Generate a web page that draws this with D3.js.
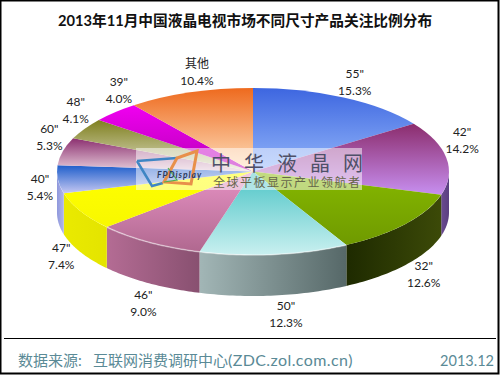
<!DOCTYPE html>
<html>
<head>
<meta charset="utf-8">
<script src="https://cdn.jsdelivr.net/npm/d3@7"></script>
<style>
  html, body { margin: 0; padding: 0; background: #fff; }
  svg { display: block; }
  text { font-family: Lato, "Noto Sans CJK SC", sans-serif; }
</style>
</head>
<body>
<svg id="chart" width="500" height="375"></svg>
<script>
"use strict";

const titleText = "2013年11月中国液晶电视市场不同尺寸产品关注比例分布";
const sizes = ['55"', '42"', '32"', '50"', '46"', '47"', '40"', '60"', '48"', '39"', "其他"];
const shares = [15.3, 14.2, 12.6, 12.3, 9.0, 7.4, 5.4, 5.3, 4.1, 4.0, 10.4];

// top face: colour at top of the slice, colour at bottom of the slice
const topColors = [
  ["#3d66e0", "#93b6fa"], ["#8b2c6c", "#c78ff0"], ["#86b800", "#6f9a00"],
  ["#4cc4c6", "#c9f0f0"], ["#e692c4", "#b0688f"], ["#ffff00", "#f8f800"],
  ["#1e5ecb", "#c6c8f2"], ["#8c3070", "#e8cfdc"], ["#7f7f1e", "#e2e2cc"],
  ["#f000f0", "#b800b8"], ["#ee6a1e", "#ffe2c0"]
];
// side wall, left to right
const sideColors = [
  ["#6a4a90", "#5a3f80"], ["#6a4a90", "#5a3f80"], ["#1e2a00", "#3c4a08"],
  ["#a2b6b6", "#566868"], ["#b46c94", "#885070"], ["#eaea00", "#e4e400"],
  ["#8f98dc", "#b0b6ea"], ["#8f98dc", "#b0b6ea"], ["#8f98dc", "#b0b6ea"],
  ["#8f98dc", "#b0b6ea"], ["#8f98dc", "#b0b6ea"]
];

const cx = 253, cy = 171.5, rx = 196, ry = 83.5, depth = 41;

const svg = d3.select("#chart");
const defs = svg.append("defs");

const slices = d3.pie().sort(null).value((d) => d)(shares);

// frame
svg.append("rect").attr("x", 0.5).attr("y", 0.5).attr("width", 498).attr("height", 373)
  .attr("fill", "#fff").attr("stroke", "#000").attr("stroke-width", 2);
svg.append("line").attr("x1", 4).attr("x2", 496).attr("y1", 338.5).attr("y2", 338.5)
  .attr("stroke", "#000").attr("stroke-width", 1.2);

svg.append("text").attr("x", 245).attr("y", 26).attr("text-anchor", "middle")
  .attr("font-size", 14.7).attr("font-weight", 700).attr("fill", "#111").text(titleText);

function gradient(id, stops, horizontal) {
  const g = defs.append("linearGradient").attr("id", id)
    .attr("x1", 0).attr("y1", 0).attr("x2", horizontal ? 1 : 0).attr("y2", horizontal ? 0 : 1);
  g.append("stop").attr("offset", "0%").attr("stop-color", stops[0]);
  g.append("stop").attr("offset", "100%").attr("stop-color", stops[1]);
}
topColors.forEach((c, i) => gradient("top" + i, c, false));
sideColors.forEach((c, i) => gradient("side" + i, c, true));

// side wall, only the front half of the ellipse is visible
const wall = d3.area()
  .x((t) => cx + rx * Math.sin(t))
  .y0((t) => cy - ry * Math.cos(t))
  .y1((t) => cy - ry * Math.cos(t) + depth);

function frontAngles(d) {
  const a = Math.max(d.startAngle, Math.PI / 2);
  const b = Math.min(d.endAngle, Math.PI * 1.5);
  return d3.range(0, 41).map((k) => a + ((b - a) * k) / 40);
}

const frontSlices = slices.filter((d) => d.endAngle > Math.PI / 2 && d.startAngle < Math.PI * 1.5);

svg.append("g").selectAll("path")
  .data(frontSlices)
  .enter()
  .append("path")
  .attr("d", (d) => wall(frontAngles(d)))
  .attr("fill", (d) => `url(#side${d.index})`);

// top face: a circle pie squashed into an ellipse
const arc = d3.arc().innerRadius(0).outerRadius(rx);
svg.append("g")
  .attr("transform", `translate(${cx},${cy}) scale(1,${ry / rx})`)
  .selectAll("path")
  .data(slices)
  .enter()
  .append("path")
  .attr("d", arc)
  .attr("fill", (d) => `url(#top${d.index})`);

// light edge on the 50" and 46" rim
const rim = d3.line()
  .x((t) => cx + rx * Math.sin(t))
  .y((t) => cy - ry * Math.cos(t));
svg.append("g").selectAll("path")
  .data(frontSlices.filter((d) => d.index === 3 || d.index === 4))
  .enter()
  .append("path")
  .attr("d", (d) => rim(frontAngles(d)))
  .attr("fill", "none")
  .attr("stroke", "#fff")
  .attr("stroke-opacity", 0.45)
  .attr("stroke-width", 1.5);

// labels sit on a bigger ellipse, nudged where the original moved them
const labelNudge = [[1, 0], [-6, -15], [1, -2], [9, 1], [6, 4], [0, -5], [4, -35], [8, -10], [10, -10], [19, -9], [14, -3]];
const labels = svg.append("g").selectAll("text")
  .data(slices)
  .enter()
  .append("text")
  .attr("text-anchor", "middle")
  .attr("font-size", 12)
  .attr("fill", "#222")
  .attr("transform", (d) => {
    const t = (d.startAngle + d.endAngle) / 2;
    const n = labelNudge[d.index];
    const drop = Math.cos(t) < 0 ? depth : 0;
    return `translate(${cx + (rx + 22) * Math.sin(t) + n[0]},${cy - (ry + 18) * Math.cos(t) + drop + n[1]})`;
  });
labels.append("tspan").attr("x", 0).attr("y", -4).text((d) => sizes[d.index]);
labels.append("tspan").attr("x", 0).attr("y", 13).text((d) => d.value.toFixed(1) + "%");

// watermark
const mark = svg.append("g");
mark.append("rect").attr("x", 136).attr("y", 148).attr("width", 226).attr("height", 42)
  .attr("fill", "#fff").attr("opacity", 0.5);
mark.append("path").attr("d", "M137 161L177 158M137 161L152 186L163 183")
  .attr("fill", "none").attr("stroke", "#3f86c4").attr("stroke-width", 2.5);
mark.append("path").attr("d", "M197 151L177 158L164 182L191 184Z")
  .attr("fill", "none").attr("stroke", "#e8904a").attr("stroke-width", 3);
mark.append("path").attr("d", "M168 168L177 180L164 182")
  .attr("fill", "none").attr("stroke", "#50b050").attr("stroke-width", 1.2);
mark.append("text").attr("x", 157).attr("y", 178).attr("font-size", 8.5).attr("font-weight", 700)
  .attr("font-style", "italic").attr("letter-spacing", 1).attr("fill", "#2c3c60").text("FPDisplay");
mark.append("text").attr("x", 211).attr("y", 171).attr("font-size", 20).attr("letter-spacing", 13)
  .attr("fill", "#4e5068").text("中华液晶网");
mark.append("text").attr("x", 213).attr("y", 187).attr("font-size", 12).attr("letter-spacing", 1.5)
  .attr("fill", "#66664a").text("全球平板显示产业领航者");

// footer
const source = svg.append("text").attr("x", 18).attr("y", 366).attr("font-size", 15).attr("fill", "#5a8a96");
source.append("tspan").text("数据来源:");
source.append("tspan").attr("x", 93).text("互联网消费调研中心");
source.append("tspan").attr("x", 228).attr("font-size", 16).attr("letter-spacing", 0.4).text("(ZDC.zol.com.cn)");
svg.append("text").attr("x", 494).attr("y", 366).attr("text-anchor", "end").attr("font-size", 14.5)
  .attr("fill", "#5a8a96").text("2013.12");
</script>
</body>
</html>
